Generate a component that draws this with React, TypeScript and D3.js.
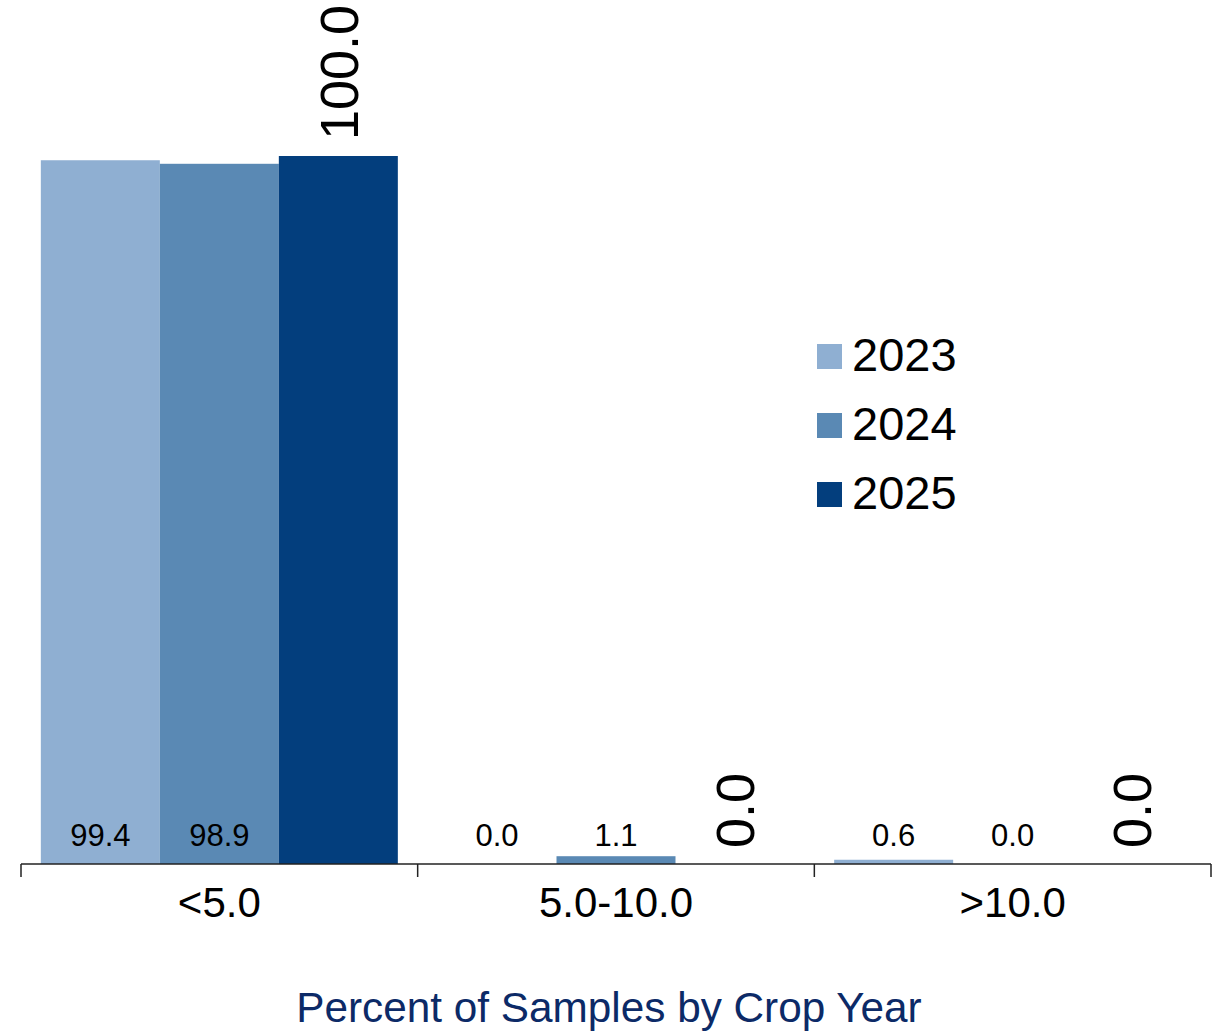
import React from "react";
import * as d3 from "d3";

const categories = ["<5.0", "5.0-10.0", ">10.0"];
const years = ["2023", "2024", "2025"];
const values2023 = [99.4, 0.0, 0.6];
const values2024 = [98.9, 1.1, 0.0];
const values2025 = [100.0, 0.0, 0.0];
const colors = ["#8fafd2", "#5a89b4", "#033e7d"];
const title = "Percent of Samples by Crop Year";

const W = 1216;
const H = 1032;
const FONT = "'Liberation Sans', Arial, Helvetica, sans-serif";

export default function App() {
  const series = [values2023, values2024, values2025];
  const x = d3.scaleBand<string>().domain(categories).range([21, 1211]).padding(0);
  const bw = x.bandwidth();
  const xi = d3
    .scaleBand<string>()
    .domain(years)
    .range([bw * 0.05, bw * 0.95])
    .padding(0);
  const y = d3.scaleLinear().domain([0, 100]).range([864, 156]);
  const baseY = y(0);
  const ticks = [...categories.map((c) => x(c) as number), x.range()[1]];

  return (
    <svg
      width={W}
      height={H}
      style={{ position: "absolute", left: 0, top: 0, background: "#fff" }}
      fontFamily={FONT}
    >
      <rect x={0} y={0} width={W} height={H} fill="#fff" />
      {categories.map((c, ci) => (
        <g key={c} transform={`translate(${x(c)},0)`}>
          {years.map((yr, si) => {
            const v = series[si][ci];
            const bx = xi(yr) as number;
            const cx = bx + xi.bandwidth() / 2;
            const top = y(v);
            return (
              <g key={yr}>
                <rect
                  x={bx}
                  y={top}
                  width={xi.bandwidth()}
                  height={baseY - top}
                  fill={colors[si]}
                />
                {si < 2 ? (
                  <text
                    x={cx}
                    y={846}
                    textAnchor="middle"
                    fontSize={31}
                    fill="#000"
                  >
                    {v.toFixed(1)}
                  </text>
                ) : (
                  <text
                    transform={`translate(${cx},${top - 16}) rotate(-90)`}
                    dy="0.36em"
                    textAnchor="start"
                    fontSize={54}
                    fill="#000"
                  >
                    {v.toFixed(1)}
                  </text>
                )}
              </g>
            );
          })}
        </g>
      ))}
      <line
        x1={x.range()[0]}
        x2={x.range()[1]}
        y1={baseY}
        y2={baseY}
        stroke="#222"
        strokeWidth={1.5}
      />
      {ticks.map((t, i) => (
        <line key={i} x1={t} x2={t} y1={baseY} y2={baseY + 13} stroke="#222" strokeWidth={1.5} />
      ))}
      {categories.map((c) => (
        <text
          key={c}
          x={(x(c) as number) + bw / 2}
          y={917}
          textAnchor="middle"
          fontSize={42}
          fill="#000"
        >
          {c}
        </text>
      ))}
      {years.map((yr, i) => (
        <g key={yr} transform={`translate(817,${344 + i * 69})`}>
          <rect x={0} y={0} width={25} height={25} fill={colors[i]} />
          <text x={35} y={27} fontSize={47} fill="#000">
            {yr}
          </text>
        </g>
      ))}
      <text x={609} y={1022} textAnchor="middle" fontSize={42.3} fill="#0c2a67">
        {title}
      </text>
    </svg>
  );
}
